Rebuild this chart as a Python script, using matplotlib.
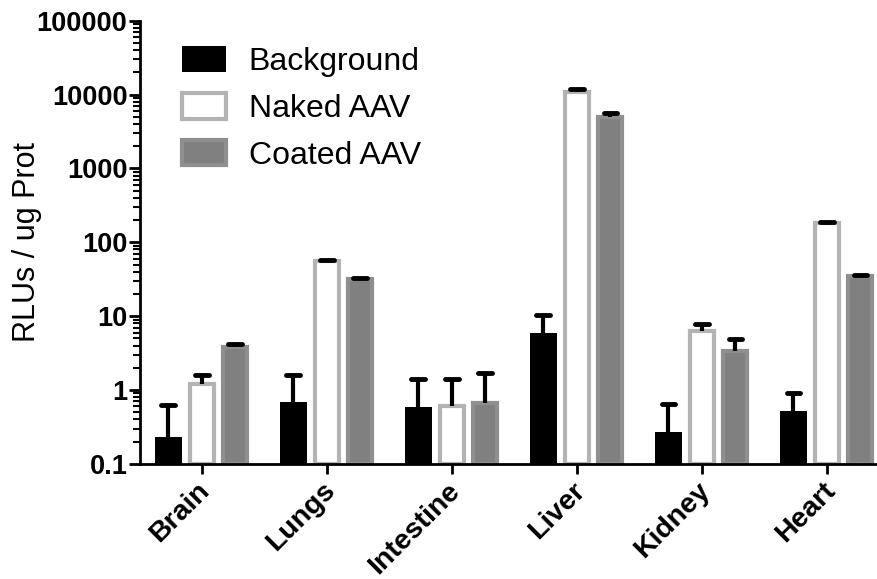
import numpy as np
import matplotlib.pyplot as plt
import matplotlib.transforms as mtransforms
from matplotlib.ticker import LogLocator, NullFormatter

plt.rcParams['font.family'] = ['Liberation Sans', 'DejaVu Sans']

organs = ['Brain', 'Lungs', 'Intestine', 'Liver', 'Kidney', 'Heart']
series = ['Background', 'Naked AAV', 'Coated AAV']

# means and upper error ends
background = [0.23, 0.68, 0.59, 5.9, 0.27, 0.52]
background_hi = [0.63, 1.6, 1.4, 10.2, 0.65, 0.9]
naked = [1.2, 55, 0.6, 10900, 6.2, 180]
naked_hi = [1.6, 58, 1.4, 11800, 7.9, 186]
coated = [3.8, 31.5, 0.67, 5000, 3.4, 35]
coated_hi = [4.2, 33, 1.7, 5600, 4.9, 36.5]

ytick_vals = [0.1, 1, 10, 100, 1000, 10000, 100000]
ytick_labels = ['0.1', '1', '10', '100', '1000', '10000', '100000']

fig = plt.figure(figsize=(8.77, 5.79), dpi=100)
ax = fig.add_axes([0.1596, 0.199, 0.8404, 0.765])

x = np.arange(len(organs))
w = 0.216
off = 0.268
cap = 0.055
styles = [
    dict(color='black', edgecolor='black', linewidth=0),
    dict(color='white', edgecolor='#b3b3b3', linewidth=3),
    dict(color='#808080', edgecolor='#8f8f8f', linewidth=3),
]
vals = [background, naked, coated]
his = [background_hi, naked_hi, coated_hi]

handles = []
for i in range(3):
    v = np.array(vals[i])
    hi = np.array(his[i])
    pos = x + (i - 1) * off
    lw = styles[i]['linewidth']
    b = ax.bar(pos, v - 0.1, width=w - lw / 125.0, bottom=0.1,
               label=series[i], zorder=2, **styles[i])
    handles.append(b)
    # upper error bar only
    ax.vlines(pos, v, hi, color='black', linewidth=3, zorder=3)
    ax.hlines(hi, pos - cap, pos + cap, color='black', linewidth=3.5,
              capstyle='round', zorder=3)

ax.set_yscale('log')
ax.set_ylim(0.1, 100000)
ax.set_xlim(-0.494, 5.40)
ax.set_yticks(ytick_vals)
ax.set_yticklabels(ytick_labels, fontsize=19.5, fontweight='bold')
ax.yaxis.set_minor_locator(LogLocator(base=10, subs=np.arange(2, 10), numticks=20))
ax.yaxis.set_minor_formatter(NullFormatter())
ax.tick_params(axis='y', which='major', length=8, width=2, pad=1)
ax.tick_params(axis='y', which='minor', length=5, width=1.5)

ax.set_xticks(x)
ax.set_xticklabels(organs, rotation=45, ha='right', rotation_mode='anchor',
                   fontsize=20.5, fontweight='bold')
ax.tick_params(axis='x', length=7, width=2, pad=3)
shift = mtransforms.ScaledTranslation(-5 / 100, 0, fig.dpi_scale_trans)
for lab in ax.get_xticklabels():
    lab.set_transform(lab.get_transform() + shift)

ax.spines['top'].set_visible(False)
ax.spines['right'].set_visible(False)
ax.spines['left'].set_linewidth(2)
ax.spines['bottom'].set_linewidth(2)

ax.set_ylabel('RLUs / ug Prot', fontsize=22)
ax.yaxis.set_label_coords(-0.133, 0.5)

ax.legend(handles=handles, loc='upper left', bbox_to_anchor=(0.0174, 1.008),
          frameon=False, fontsize=23, handlelength=1.4, handleheight=0.86,
          labelspacing=0.5, handletextpad=0.7)

plt.savefig('out.png', dpi=100)
